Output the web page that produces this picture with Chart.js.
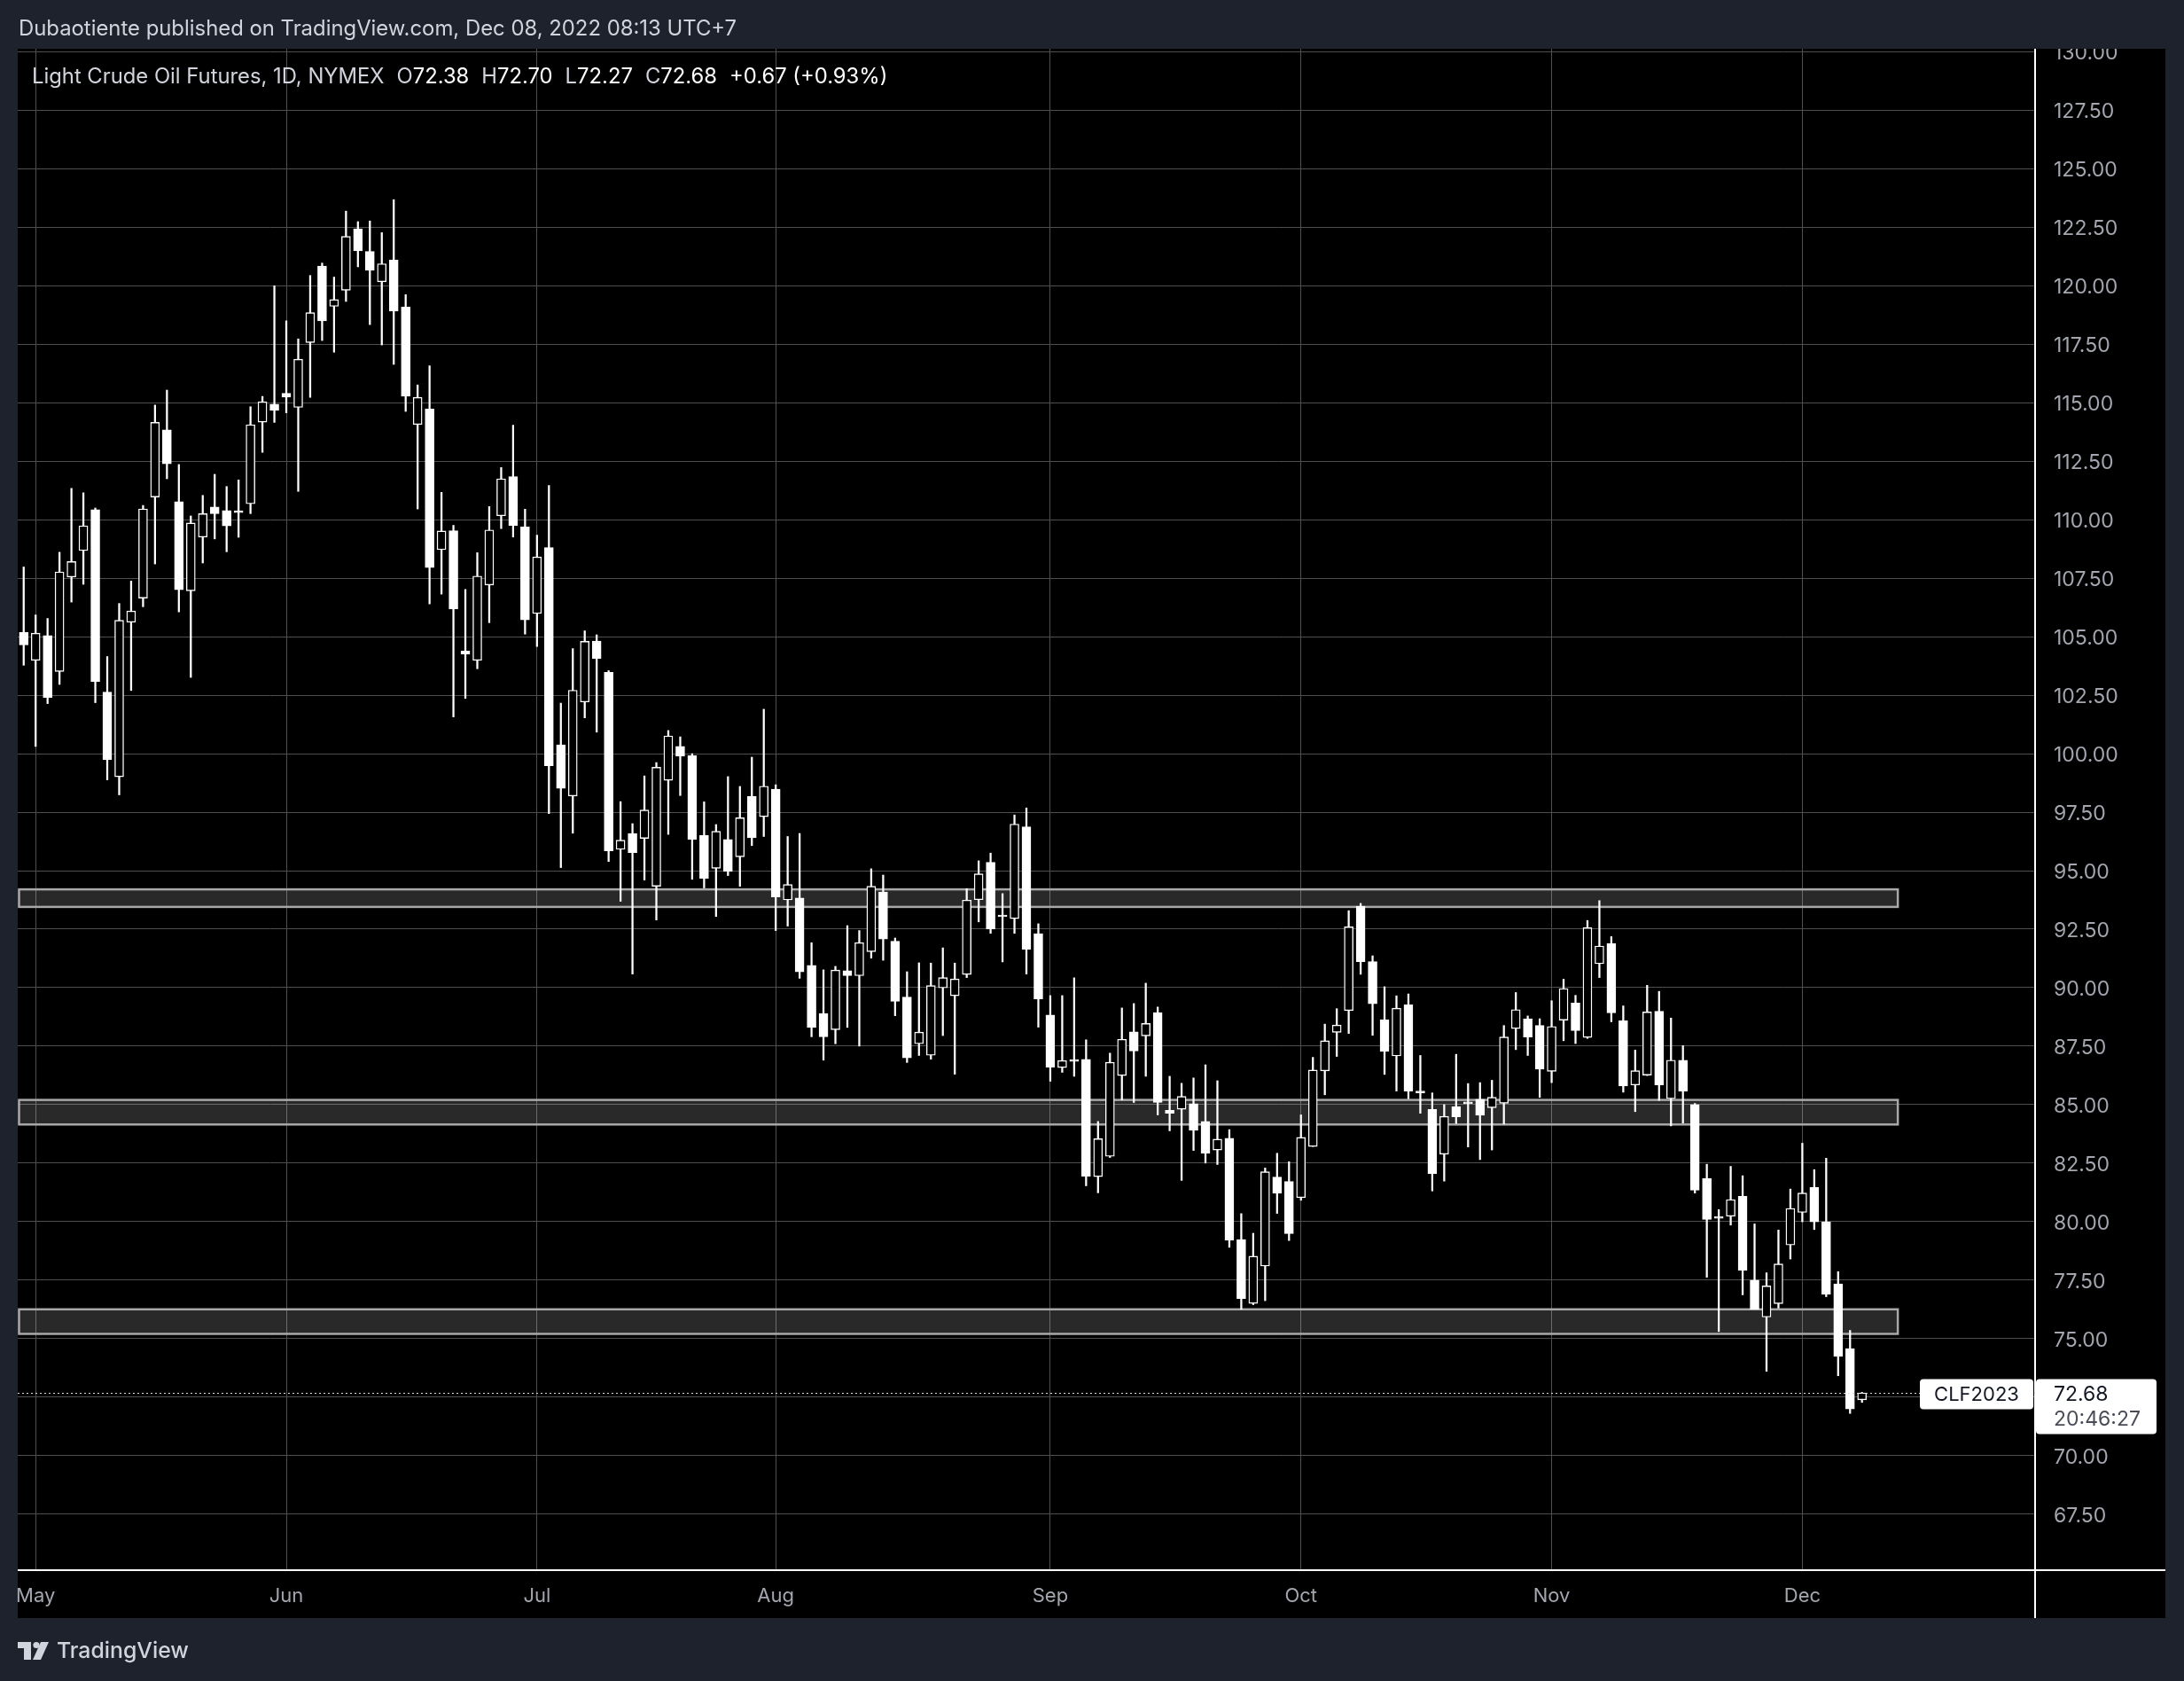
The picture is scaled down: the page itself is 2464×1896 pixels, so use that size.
<!DOCTYPE html>
<html><head><meta charset="utf-8">
<script src="https://cdn.jsdelivr.net/npm/chart.js@4.4.0/dist/chart.umd.min.js"></script>
<style>
html,body{margin:0;padding:0;background:#1e222d;overflow:hidden;}
canvas{display:block;}
</style></head><body>
<canvas id="c" width="2464" height="1896"></canvas>
<script>
// ---- categories (trading days) ----
const monthNames = ['Apr','May','Jun','Jul','Aug','Sep','Oct','Nov','Dec'];
const aprDays = [29];
const mayDays = [2,3,4,5,6,9,10,11,12,13,16,17,18,19,20,23,24,25,26,27,31];
const junDays = [1,2,3,6,7,8,9,10,13,14,15,16,17,21,22,23,24,27,28,29,30];
const julDays = [1,5,6,7,8,11,12,13,14,15,18,19,20,21,22,25,26,27,28,29];
const augDays = [1,2,3,4,5,8,9,10,11,12,15,16,17,18,19,22,23,24,25,26,29,30,31];
const sepDays = [1,2,6,7,8,9,12,13,14,15,16,19,20,21,22,23,26,27,28,29,30];
const octDays = [3,4,5,6,7,10,11,12,13,14,17,18,19,20,21,24,25,26,27,28,31];
const novDays = [1,2,3,4,7,8,9,10,11,14,15,16,17,18,21,22,23,25,28,29,30];
const decDays = [1,2,5,6,7,8];
const futureDecDays = [9,12,13,14,15,16,19,20,21,22,23,27,28,29];

// ---- OHLC series ----
const opens = [105.18,
103.99,105.05,103.51,107.55,108.68,110.43,102.63,99.01,105.62,106.65,110.97,113.84,110.77,106.96,109.26,110.54,110.39,110.38,110.68,114.17,114.94,
115.40,114.80,117.57,120.84,119.12,119.81,122.43,121.47,120.17,121.10,119.09,114.07,114.73,108.72,109.53,104.39,103.99,107.21,110.17,111.84,109.69,
105.99,108.81,100.38,98.19,102.21,104.81,103.48,95.91,96.59,96.38,94.33,98.86,100.31,99.91,96.50,95.10,96.33,95.59,98.17,97.31,
98.48,93.75,93.83,90.95,88.90,88.20,90.72,90.51,91.54,94.09,91.98,89.60,87.60,87.11,89.99,89.65,90.56,93.76,95.36,93.08,92.95,96.87,92.31,
88.83,86.58,86.88,86.93,81.92,82.79,86.24,88.11,87.94,88.93,84.76,84.80,85.04,84.28,83.06,83.56,79.23,76.50,78.10,81.90,81.71,
81.02,83.21,86.44,88.09,89.02,93.48,91.11,88.63,87.08,89.27,85.55,84.79,82.88,84.92,85.08,85.23,84.87,85.06,88.25,88.67,88.38,
86.42,88.61,89.34,87.87,91.02,91.88,88.58,85.84,86.26,88.99,85.25,86.90,85.00,81.84,80.18,80.23,81.08,77.50,75.92,76.49,79.00,
80.39,81.46,79.99,77.34,74.57,72.38];
const highs = [107.98,
105.93,105.78,108.61,111.34,111.15,110.50,104.15,106.42,107.38,110.61,114.90,115.54,112.36,110.16,111.04,111.94,111.42,111.70,114.83,115.27,120.00,
118.50,117.73,120.44,120.97,120.37,123.19,122.74,122.77,122.27,123.68,119.62,115.76,116.58,111.17,109.76,107.02,108.59,110.56,112.23,114.04,110.45,
109.34,111.46,102.16,104.49,105.25,105.08,103.55,97.95,97.01,99.05,99.62,100.99,100.72,100.00,97.94,96.97,99.02,98.60,99.85,101.90,
98.67,96.46,96.59,91.92,90.76,90.91,92.65,92.44,95.08,94.81,92.12,90.68,91.06,91.05,91.70,91.05,94.23,95.42,95.75,94.02,97.38,97.68,92.73,
89.66,89.66,90.42,87.77,84.28,87.20,89.13,89.32,90.19,89.17,86.21,85.91,86.14,86.70,86.02,83.93,80.34,79.50,82.29,82.92,82.56,
84.56,87.02,88.44,89.10,93.29,93.60,91.36,90.04,89.65,89.73,87.10,85.50,85.00,87.15,85.90,85.94,86.04,88.38,89.79,88.79,88.67,
89.44,90.36,89.67,92.87,93.72,92.18,89.22,87.33,90.10,89.84,88.70,87.52,85.05,82.45,80.51,82.36,81.96,79.90,77.81,79.64,81.39,
83.35,82.22,82.71,77.86,75.35,72.70];
const lows = [103.78,
100.31,102.14,102.96,106.48,107.24,102.18,98.88,98.24,102.70,106.28,108.11,111.75,106.06,103.26,108.15,109.18,108.63,109.25,110.26,112.88,114.16,
114.57,111.21,115.23,117.66,117.16,119.33,120.81,118.34,117.47,116.64,114.63,110.46,106.40,106.82,101.57,102.36,103.63,105.60,109.62,109.26,105.11,
104.58,97.44,95.13,96.60,101.53,100.92,95.39,93.69,90.58,94.60,92.89,96.55,98.21,94.63,94.26,93.04,94.79,94.33,96.07,96.46,
92.44,92.63,90.40,87.90,86.90,87.60,88.30,87.50,91.26,91.17,88.80,86.80,87.10,86.94,87.95,86.30,90.43,92.81,92.32,91.10,92.32,90.58,88.31,
86.00,86.38,86.21,81.53,81.23,82.74,85.20,85.09,86.21,84.56,83.88,81.76,83.04,82.50,82.44,78.90,76.25,76.45,76.62,80.35,79.19,
80.91,83.21,85.42,87.06,88.04,90.57,87.96,86.29,85.58,85.25,84.63,81.31,81.73,84.19,83.19,82.65,83.06,84.17,87.35,87.10,85.31,
85.94,87.73,87.61,87.83,90.43,88.54,85.53,84.70,86.24,85.18,84.09,84.21,81.22,77.62,75.30,79.85,76.87,76.25,73.60,76.30,78.40,
79.99,79.66,76.79,73.41,71.80,72.27];
const closes = [104.65,
105.15,102.40,107.77,108.21,109.74,103.08,99.74,105.70,106.10,110.46,114.16,112.39,107.01,109.86,110.26,110.26,109.74,110.30,114.06,115.04,114.67,
115.24,116.86,118.85,118.50,119.41,122.11,121.49,120.66,120.94,118.92,115.28,115.23,107.95,109.52,106.18,104.26,107.59,109.56,111.75,109.75,105.72,
108.41,99.48,98.52,102.71,104.80,104.07,95.85,96.30,95.77,97.59,99.42,100.76,99.89,96.34,94.67,96.68,94.97,97.26,96.41,98.61,
93.88,94.41,90.67,88.30,87.90,90.75,90.51,91.92,94.33,92.08,89.41,87.00,88.10,90.09,90.43,90.37,93.74,94.86,92.50,93.03,96.99,91.64,89.52,
86.60,86.88,86.85,81.94,83.54,86.81,87.79,87.29,88.47,85.09,84.63,85.35,83.90,82.92,83.52,79.20,76.71,78.52,82.13,81.21,79.48,
83.60,86.48,87.73,88.40,92.60,91.11,89.31,87.27,89.12,85.58,85.50,82.04,84.50,84.48,85.04,84.54,85.31,87.89,89.06,87.89,86.51,
88.34,89.96,88.16,92.56,91.78,88.92,85.79,86.45,88.96,85.84,86.90,85.58,81.34,80.09,80.14,80.94,77.91,76.25,77.25,78.19,80.56,
81.22,79.99,76.89,74.24,71.99,72.68];

// ---- zones, last price, texts ----
const zoneLows  = [93.45, 84.15, 75.20];
const zoneHighs = [94.20, 85.20, 76.25];
const lastPrice = 72.68;
const symbolTag = 'CLF2023';
const countdown = '20:46:27';
const headerText = 'Dubaotiente published on TradingView.com, Dec 08, 2022 08:13 UTC+7';
const legendTitle = 'Light Crude Oil Futures, 1D, NYMEX';
const legendKeys = ['O','H','L','C'];
const legendVals = ['72.38','72.70','72.27','72.68'];
const legendChange = '+0.67 (+0.93%)';
const yMin = 65.10, yMax = 130.13, yStep = 2.5;

// ---- build labels ----
const monthDays = [aprDays,mayDays,junDays,julDays,augDays,sepDays,octDays,novDays,decDays];
const labels = []; const monthStart = {};
monthDays.forEach((days, m) => days.forEach((d, k) => {
  if (k === 0 && m > 0) monthStart[labels.length] = monthNames[m];
  labels.push(monthNames[m] + ' ' + d);
}));
futureDecDays.forEach(d => labels.push('Dec ' + d));
const nBars = opens.length;
const wickData = labels.map((_, i) => i < nBars ? [lows[i], highs[i]] : null);
const bodyData = labels.map((_, i) => i < nBars ? [opens[i], closes[i]] : null);

const W = 2464, H = 1896;
const PANEL = {x:20, y:55, r:2443, b:1825};
const NAVY = '#1e222d';
const FONT = 'Inter, "Noto Sans", sans-serif';

function rrect(c, x, y, w, h, r) {
  c.beginPath();
  c.moveTo(x + r, y); c.lineTo(x + w - r, y); c.quadraticCurveTo(x + w, y, x + w, y + r);
  c.lineTo(x + w, y + h - r); c.quadraticCurveTo(x + w, y + h, x + w - r, y + h);
  c.lineTo(x + r, y + h); c.quadraticCurveTo(x, y + h, x, y + h - r);
  c.lineTo(x, y + r); c.quadraticCurveTo(x, y, x + r, y); c.closePath();
}
function fitFont(c, text, target, base, weight) {
  c.font = (weight||'') + ' ' + base + 'px ' + FONT;
  const w = c.measureText(text).width;
  let s = base * target / w; s = Math.max(base - 4, Math.min(base + 4, s));
  c.font = (weight||'') + ' ' + s.toFixed(2) + 'px ' + FONT;
}

const tvPlugin = {
  id: 'tv',
  beforeDraw(chart) {
    const c = chart.ctx;
    c.save();
    c.fillStyle = NAVY; c.fillRect(0, 0, W, H);
    c.fillStyle = '#000'; c.fillRect(PANEL.x, PANEL.y, PANEL.r - PANEL.x, PANEL.b - PANEL.y);
    c.restore();
  },
  beforeDatasetsDraw(chart) {
    const c = chart.ctx, ys = chart.scales.y, xs = chart.scales.x, ca = chart.chartArea;
    const xEnd = xs.getPixelForValue(nBars + 2);
    c.save();
    zoneLows.forEach((lo, i) => {
      const yTop = ys.getPixelForValue(zoneHighs[i]);
      const yBot = ys.getPixelForValue(lo);
      c.fillStyle = 'rgba(255,255,255,0.16)';
      c.fillRect(ca.left, yTop, xEnd - ca.left, yBot - yTop);
      c.strokeStyle = '#a8a8a8'; c.lineWidth = 2.5;
      c.strokeRect(ca.left + 1.5, yTop, xEnd - ca.left - 1.5, yBot - yTop);
    });
    c.restore();
  },
  afterDraw(chart) {
    const c = chart.ctx, ys = chart.scales.y, ca = chart.chartArea;
    c.save();
    // header strip (clips top label like the reference)
    c.fillStyle = NAVY; c.fillRect(0, 0, W, PANEL.y);
    c.fillRect(PANEL.r, 0, W - PANEL.r, H);
    // separators
    c.strokeStyle = '#ffffff'; c.lineWidth = 2;
    c.beginPath(); c.moveTo(PANEL.x, ca.bottom); c.lineTo(PANEL.r, ca.bottom); c.stroke();
    c.beginPath(); c.moveTo(ca.right, PANEL.y); c.lineTo(ca.right, PANEL.b); c.stroke();
    // last price dotted line
    const py = Math.round(ys.getPixelForValue(lastPrice)) + 0.5;
    c.setLineDash([2, 3]); c.strokeStyle = '#dcdcdc'; c.lineWidth = 1.2;
    c.beginPath(); c.moveTo(ca.left, py); c.lineTo(ca.right, py); c.stroke(); c.setLineDash([]);
    // symbol tag
    c.fillStyle = '#ffffff';
    rrect(c, ca.right - 130, py - 16, 128, 34, 4); c.fill();
    c.fillStyle = '#131722'; c.textAlign = 'center'; c.textBaseline = 'middle';
    c.font = '22px ' + FONT; c.fillText(symbolTag, ca.right - 66, py + 2);
    // price tag
    c.fillStyle = '#ffffff';
    rrect(c, ca.right + 1, py - 16, 136, 62, 4); c.fill();
    c.textAlign = 'left'; c.fillStyle = '#131722'; c.font = '23px ' + FONT;
    c.fillText(lastPrice.toFixed(2), ca.right + 21, py + 2);
    c.fillStyle = '#4a4d57'; c.fillText(countdown, ca.right + 21, py + 30);
    // header text
    c.textAlign = 'left'; c.textBaseline = 'middle';
    c.fillStyle = '#d1d4dc';
    fitFont(c, headerText, 810, 22);
    c.fillText(headerText, 21, 33);
    // legend line, laid out sequentially
    const gap = 14;
    const pieces = [[legendTitle, '#d1d4dc']];
    legendKeys.forEach((k, i) => pieces.push([k, '#d1d4dc', legendVals[i]]));
    pieces.push([legendChange, '#ffffff']);
    const base = 22;
    c.font = base + 'px ' + FONT;
    let tot = 0;
    pieces.forEach(p => { tot += c.measureText(p[0] + (p[2] || '')).width; });
    const size = base * (966 - gap * (pieces.length - 1)) / tot;
    c.font = size.toFixed(2) + 'px ' + FONT;
    let x = 36;
    pieces.forEach(p => {
      c.fillStyle = p[1]; c.fillText(p[0], x, 87);
      let w = c.measureText(p[0]).width;
      if (p[2]) { c.fillStyle = '#ffffff'; c.fillText(p[2], x + w, 87); w += c.measureText(p[2]).width; }
      x += w + gap;
    });
    // footer logo
    c.fillStyle = '#d1d4dc';
    c.fillRect(20, 1852, 15, 7); c.fillRect(27, 1852, 8, 20);
    c.beginPath(); c.arc(41, 1855.5, 3.6, 0, Math.PI * 2); c.fill();
    c.beginPath(); c.moveTo(37, 1872); c.lineTo(46, 1852); c.lineTo(55, 1852); c.lineTo(46, 1872); c.closePath(); c.fill();
    fitFont(c, 'TradingView', 149, 25, '500');
    c.fillText('TradingView', 64, 1863);
    c.restore();
  }
};

Chart.defaults.font.family = FONT;
new Chart(document.getElementById('c'), {
  type: 'bar',
  data: {
    labels: labels,
    datasets: [
      { label: 'wick', data: wickData, backgroundColor: '#ffffff', borderWidth: 0,
        barThickness: 1.6, grouped: false, order: 2 },
      { label: 'body', data: bodyData,
        backgroundColor: ctx => (closes[ctx.dataIndex] >= opens[ctx.dataIndex] ? '#000000' : '#ffffff'),
        borderColor: '#ffffff', borderWidth: 1.4, borderSkipped: false,
        barThickness: 10, minBarLength: 2, grouped: false, order: 1 }
    ]
  },
  options: {
    responsive: false, animation: false, devicePixelRatio: 1,
    layout: { padding: { left: PANEL.x, top: PANEL.y, right: W - PANEL.r, bottom: H - PANEL.b } },
    plugins: { legend: { display: false }, tooltip: { enabled: false } },
    scales: {
      x: {
        type: 'category', offset: true,
        grid: { offset: false, color: '#4f4f4f', lineWidth: 1, drawTicks: false },
        border: { display: false },
        ticks: { autoSkip: false, maxRotation: 0, minRotation: 0, padding: 16, color: '#a3a6af',
          font: { family: FONT, size: 22 },
          callback: (v, i) => (monthStart[i] !== undefined ? monthStart[i] : null) },
        afterFit: s => { s.height = 54; }
      },
      y: {
        position: 'right', min: yMin, max: yMax,
        grid: { color: '#4f4f4f', lineWidth: 1, drawTicks: false },
        border: { display: false },
        ticks: { stepSize: yStep, includeBounds: false, padding: 21, labelOffset: 2, color: '#a3a6af',
          font: { family: FONT, size: 23 }, callback: v => Number(v).toFixed(2) },
        afterFit: s => { s.width = 147; }
      }
    }
  },
  plugins: [tvPlugin]
});
</script>
</body></html>
